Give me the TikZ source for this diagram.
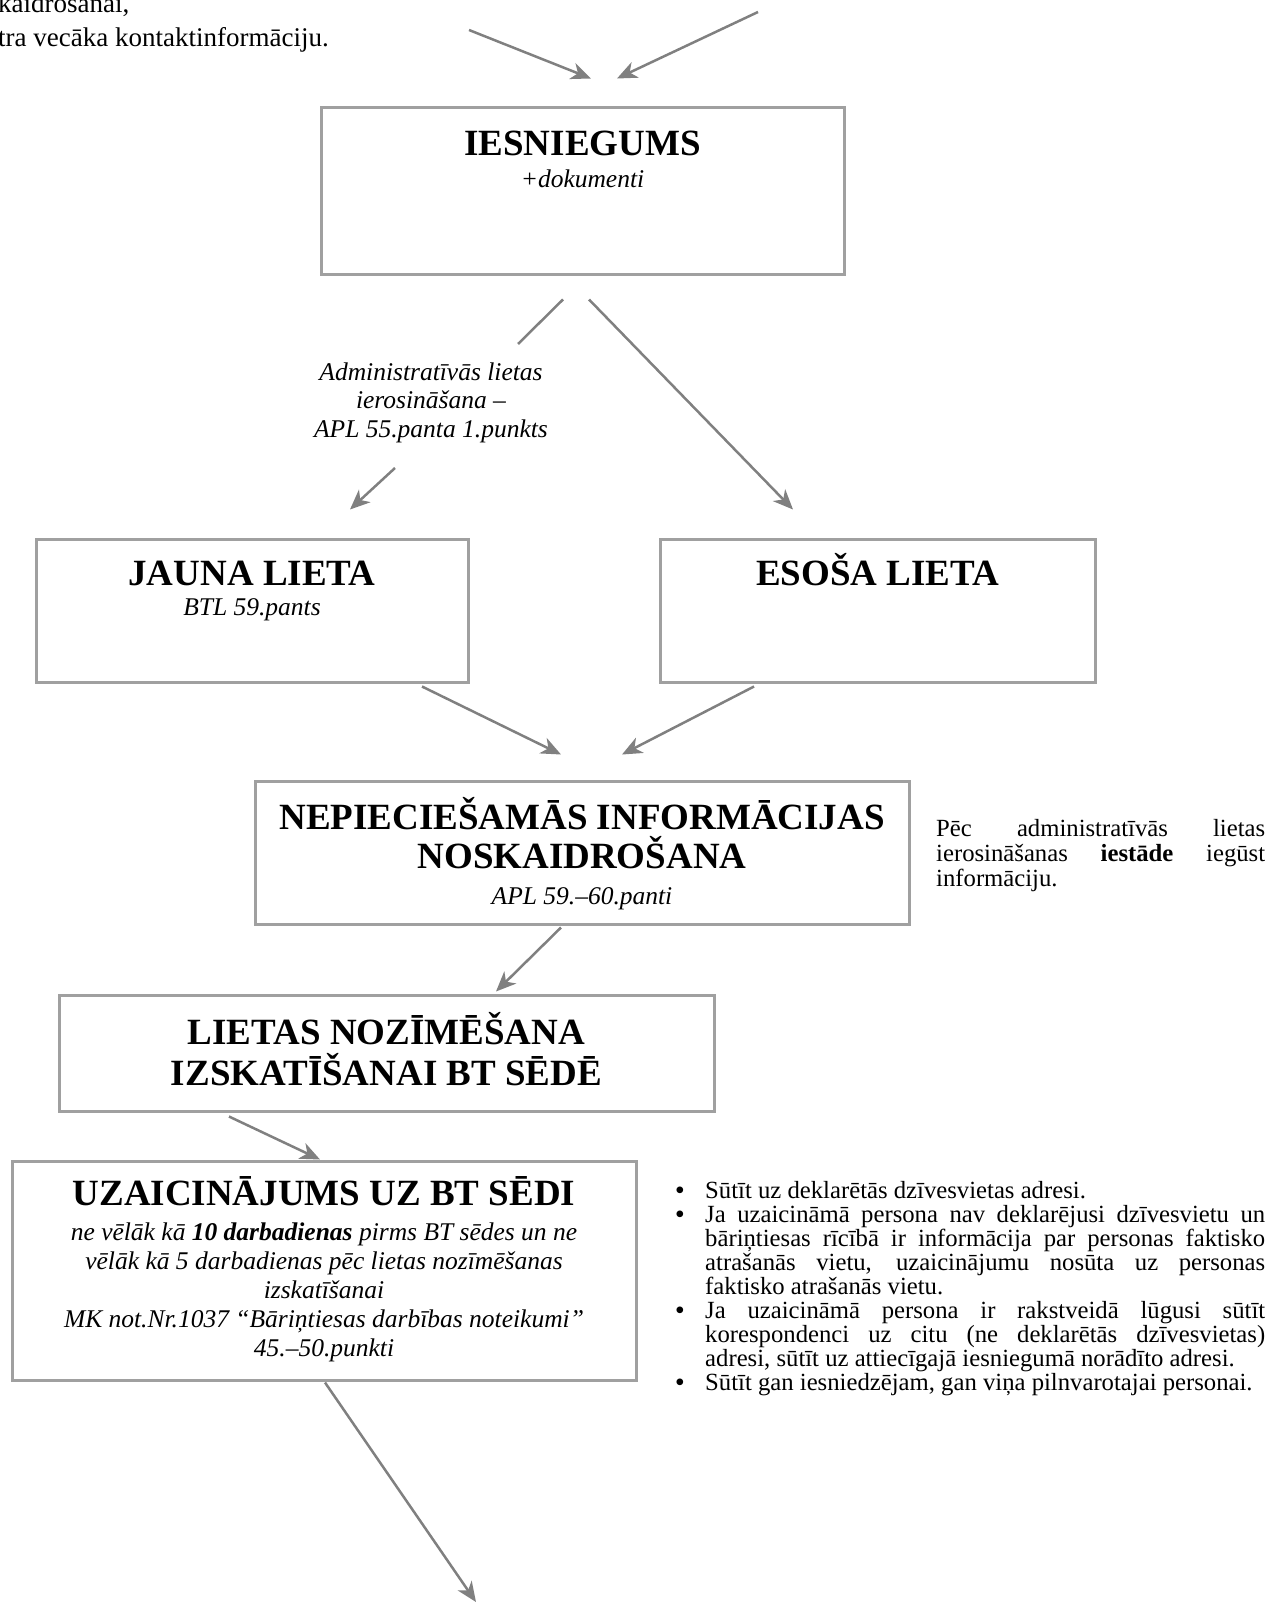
\documentclass[tikz,border=0pt]{standalone}
\usepackage{fontspec}
\setmainfont{Liberation Serif}
\usetikzlibrary{arrows.meta,calc}
\definecolor{boxgray}{RGB}{160,160,160}
\definecolor{arrgray}{RGB}{128,128,128}
\begin{document}
\begin{tikzpicture}[x=1pt,y=-1pt,
  box/.style={draw=boxgray, line width=3pt, fill=none, inner sep=0pt},
  ttl/.style={font=\fontsize{37}{40}\selectfont\bfseries, anchor=base, inner sep=0pt},
  sub/.style={font=\fontsize{25.5}{29}\selectfont\itshape, anchor=base, inner sep=0pt},
  body/.style={font=\fontsize{24.7}{25}\selectfont, anchor=base west, inner sep=0pt},
  bul/.style={font=\fontsize{24.7}{25}\selectfont\bfseries, anchor=base, inner sep=0pt},
  ln/.style={draw=arrgray, line width=2.5pt},
  arr/.style={ln, -{Stealth[length=20pt,width=17pt,inset=6pt]}}]
\useasboundingbox (0,0) rectangle (1271,1602);

% top-left clipped text
\node[body, font=\fontsize{27}{27}\selectfont] (tl1) at (-2,13) {kaidrošanai,};
\node[body, font=\fontsize{27}{27}\selectfont] (tl2) at (-2,47) {tra vecāka kontaktinformāciju.};

% boxes
\node[box, minimum width=523pt, minimum height=167pt] (iesn) at (582.5,191.5) {};
\node[ttl] (iesnT) at (582.5,156) {IESNIEGUMS};
\node[sub] (iesnS) at (582.5,188) {+dokumenti};

\node[box, minimum width=432pt, minimum height=143pt] (jauna) at (252,610.5) {};
\node[ttl] (jaunaT) at (252,585) {JAUNA LIETA};
\node[sub] (jaunaS) at (252,615) {BTL 59.pants};

\node[box, minimum width=435pt, minimum height=143pt] (esosa) at (877.5,610.5) {};
\node[ttl] (esosaT) at (877.5,585) {ESOŠA LIETA};

\node[box, minimum width=654pt, minimum height=143pt] (nep) at (582,852.5) {};
\node[ttl] (nepT1) at (582,829) {NEPIECIEŠAMĀS INFORMĀCIJAS};
\node[ttl] (nepT2) at (582,868) {NOSKAIDROŠANA};
\node[sub] (nepS) at (582,904) {APL 59.–60.panti};

\node[box, minimum width=655pt, minimum height=116pt] (liet) at (386.5,1053) {};
\node[ttl] (lietT1) at (386.5,1044) {LIETAS NOZĪMĒŠANA};
\node[ttl] (lietT2) at (386.5,1085) {IZSKATĪŠANAI BT SĒDĒ};

\node[box, minimum width=624pt, minimum height=219pt] (uzai) at (324,1270.5) {};
\node[ttl] (uzaiT) at (324,1205) {UZAICINĀJUMS UZ BT SĒDI};
\node[sub] (uzaiS1) at (324,1240) {ne vēlāk kā \textbf{10 darbadienas} pirms BT sēdes un ne};
\node[sub] (uzaiS2) at (324,1269) {vēlāk kā 5 darbadienas pēc lietas nozīmēšanas};
\node[sub] (uzaiS3) at (324,1298) {izskatīšanai};
\node[sub] (uzaiS4) at (324,1327) {MK not.Nr.1037 “Bāriņtiesas darbības noteikumi”};
\node[sub] (uzaiS5) at (324,1356) {45.–50.punkti};

% label on connector
\node[sub] (lbl1) at (431,380) {Administratīvās lietas};
\node[sub] (lbl2) at (431,408) {ierosināšana –};
\node[sub] (lbl3) at (431,437) {APL 55.panta 1.punkts};

% right paragraph
\node[body] (r1) at (936,836) {\makebox[329pt][s]{Pēc administratīvās lietas}};
\node[body] (r2) at (936,861) {\makebox[329pt][s]{ierosināšanas \textbf{iestāde} iegūst}};
\node[body] (r3) at (936,886) {informāciju.};

% bullet list
\node[bul] (d1) at (680,1198) {•};
\node[body] (b0) at (705,1198) {Sūtīt uz deklarētās dzīvesvietas adresi.};
\node[bul] (d2) at (680,1222) {•};
\node[body] (b1) at (705,1222) {\makebox[560pt][s]{Ja uzaicināmā persona nav deklarējusi dzīvesvietu un}};
\node[body] (b2) at (705,1246) {\makebox[560pt][s]{bāriņtiesas rīcībā ir informācija par personas faktisko}};
\node[body] (b3) at (705,1270) {\makebox[560pt][s]{atrašanās vietu, uzaicinājumu nosūta uz personas}};
\node[body] (b4) at (705,1294) {faktisko atrašanās vietu.};
\node[bul] (d3) at (680,1318) {•};
\node[body] (b5) at (705,1318) {\makebox[560pt][s]{Ja uzaicināmā persona ir rakstveidā lūgusi sūtīt}};
\node[body] (b6) at (705,1342) {\makebox[560pt][s]{korespondenci uz citu (ne deklarētās dzīvesvietas)}};
\node[body] (b7) at (705,1366) {adresi, sūtīt uz attiecīgajā iesniegumā norādīto adresi.};
\node[bul] (d4) at (680,1390) {•};
\node[body] (b8) at (705,1390) {Sūtīt gan iesniedzējam, gan viņa pilnvarotajai personai.};

% free ends
\coordinate (in1) at (469,30);
\coordinate (in2) at (758,12);
\coordinate (out) at (476,1602);

% connectors
\draw[arr] (in1) -- ($(iesn.north)+(8.5,-28)$);
\draw[arr] (in2) -- ($(iesn.north)+(34.5,-28)$);
\draw[ln] ($(iesn.south)+(-19.5,23)$) -- ($(lbl1.base)+(87,-36)$);
\draw[arr] ($(lbl3.base)+(-36,31)$) -- ($(jauna.north)+(98,-28)$);
\draw[arr] ($(iesn.south)+(6.5,23)$) -- ($(esosa.north)+(-84.5,-28)$);
\draw[arr] ($(jauna.south)+(170,3)$) -- ($(nep.north)+(-21,-25)$);
\draw[arr] ($(esosa.south)+(-123.5,3)$) -- ($(nep.north)+(40,-25)$);
\draw[arr] ($(nep.south)+(-21,2)$) -- ($(liet.north)+(109.5,-2)$);
\draw[arr] ($(liet.south)+(-157.5,4)$) -- ($(uzai.north)+(-4,0)$);
\draw[arr] ($(uzai.south)+(1,1)$) -- (out);
\end{tikzpicture}
\end{document}
